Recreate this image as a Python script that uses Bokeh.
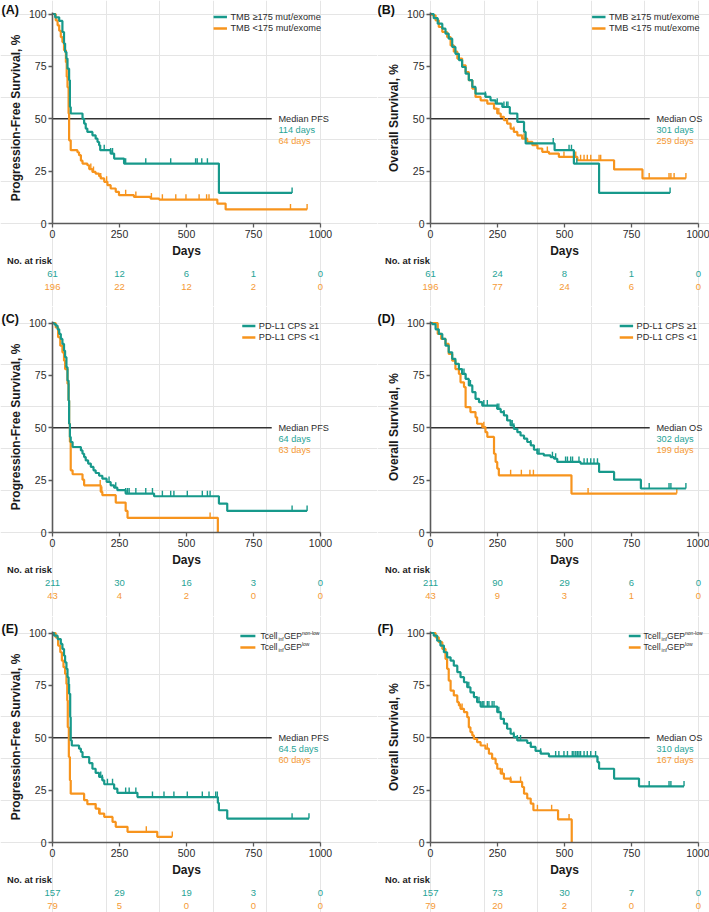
import numpy as np
from bokeh.plotting import figure
from bokeh.layouts import gridplot
from bokeh.models import (Range1d, FixedTicker, Label, LabelSet, ColumnDataSource,
                          LinearAxis)
from bokeh.embed import file_html
from bokeh.resources import INLINE
from bokeh.core.properties import value

# ---------------- data ----------------
X_TICKS = [0, 250, 500, 750, 1000]
Y_TICKS = [0, 25, 50, 75, 100]
RISK_TIMES = [0, 250, 500, 750, 1000]

# (A) PFS by TMB
a_hi_t = [10, 25, 37, 43, 47, 52, 56, 62, 65, 68, 112, 118, 124, 130, 149, 161, 168, 174, 178, 217, 230, 267, 621]
a_hi_s = [98.4, 96.7, 91.4, 85.9, 81.9, 78.7, 73.9, 68.4, 55.6, 52.5, 50.0, 47.7, 45.3, 43.7, 42.1, 40.5, 38.9, 37.3, 35.0, 33.4, 31.0, 28.6, 14.6]
a_hi_c = [193, 217, 224, 273, 348, 441, 534, 540, 557, 578, 894]
a_lo_t = [12, 19, 25, 31, 37, 43, 50, 53, 56, 60, 62, 68, 93, 99, 106, 112, 130, 137, 149, 161, 174, 180, 193, 205, 217, 236, 248, 304, 366, 398, 615, 646]
a_lo_s = [97.0, 94.6, 92.0, 89.0, 86.6, 82.7, 77.0, 70.0, 65.0, 52.5, 39.7, 35.0, 34.0, 32.6, 30.0, 28.6, 27.8, 26.0, 24.6, 23.8, 22.6, 21.5, 19.9, 18.3, 16.7, 15.1, 13.5, 12.7, 11.9, 11.4, 9.5, 6.7]
a_lo_c = [143, 153, 180, 202, 273, 311, 369, 410, 460, 498, 547, 575, 584, 888, 950]
a_risk_hi = [61, 12, 6, 1, 0]
a_risk_lo = [196, 22, 12, 2, 0]
a_median = ["Median PFS", "114 days", "64 days"]

# (B) OS by TMB
b_hi_t = [12, 27, 44, 56, 68, 81, 93, 106, 118, 131, 143, 156, 168, 205, 224, 243, 268, 296, 324, 349, 355, 463, 535, 629]
b_hi_s = [98.0, 95.4, 93.0, 90.6, 88.2, 84.3, 81.0, 78.0, 74.7, 71.5, 68.4, 65.2, 62.0, 60.4, 58.8, 57.2, 55.6, 52.5, 48.5, 43.7, 38.2, 35.0, 28.6, 14.6]
b_hi_c = [205, 249, 274, 284, 289, 458, 517, 526, 546, 894]
b_lo_t = [6, 19, 31, 44, 62, 75, 87, 100, 118, 131, 143, 156, 168, 187, 212, 237, 249, 262, 274, 286, 299, 311, 324, 342, 361, 380, 399, 417, 442, 479, 548, 685, 791]
b_lo_s = [99.4, 97.0, 93.8, 91.4, 89.0, 85.0, 82.0, 78.7, 75.5, 72.3, 68.4, 64.4, 60.4, 58.8, 57.2, 54.8, 52.5, 50.9, 49.3, 47.7, 45.3, 43.7, 42.1, 40.5, 39.0, 37.4, 35.8, 34.2, 33.4, 31.8, 30.2, 25.8, 21.5]
b_lo_c = [237, 255, 286, 311, 349, 436, 498, 542, 560, 573, 585, 598, 629, 635, 816, 890, 897, 909, 953]
b_risk_hi = [61, 24, 8, 1, 0]
b_risk_lo = [196, 77, 24, 6, 0]
b_median = ["Median OS", "301 days", "259 days"]

# (C) PFS by PD-L1
c_hi_t = [6, 12, 19, 25, 31, 37, 43, 47, 52, 56, 60, 62, 65, 68, 75, 106, 112, 118, 124, 133, 143, 153, 161, 174, 186, 202, 217, 230, 242, 273, 379, 621, 652]
c_hi_s = [99.5, 98.7, 97.0, 94.8, 92.4, 90.0, 86.8, 83.7, 78.9, 72.5, 63.0, 51.9, 45.6, 43.2, 40.8, 39.2, 37.6, 36.0, 34.4, 32.9, 31.3, 29.7, 28.4, 27.1, 25.7, 24.1, 22.5, 21.4, 20.2, 18.6, 17.3, 13.8, 10.3]
c_hi_c = [211, 236, 273, 280, 286, 311, 348, 373, 410, 441, 453, 503, 559, 578, 588, 894, 950]
c_lo_t = [12, 21, 29, 37, 43, 47, 56, 60, 62, 65, 68, 75, 112, 118, 180, 186, 236, 273, 280, 617]
c_lo_s = [97.9, 93.2, 89.2, 86.0, 82.0, 78.0, 71.0, 63.0, 51.9, 43.2, 29.7, 27.8, 25.2, 22.5, 19.4, 17.8, 14.3, 10.3, 7.0, 0.0]
c_lo_c = [178, 184, 588]
c_risk_hi = [211, 30, 16, 3, 0]
c_risk_lo = [43, 4, 2, 0, 0]
c_median = ["Median PFS", "64 days", "63 days"]

# (D) OS by PD-L1
d_hi_t = [6, 19, 31, 44, 56, 68, 81, 93, 106, 118, 131, 143, 156, 168, 181, 193, 249, 262, 274, 286, 299, 311, 324, 336, 349, 361, 374, 386, 399, 423, 448, 461, 473, 560, 629, 685, 785]
d_hi_s = [99.5, 97.0, 94.8, 92.4, 89.2, 86.0, 82.9, 80.5, 78.0, 75.7, 73.3, 70.2, 67.0, 63.8, 62.2, 60.6, 59.0, 57.5, 55.9, 53.5, 51.1, 49.5, 47.9, 46.3, 44.8, 43.2, 41.6, 39.5, 37.6, 36.8, 36.0, 35.2, 33.7, 32.9, 28.9, 25.2, 21.0]
d_hi_c = [125, 131, 149, 199, 212, 249, 255, 274, 286, 299, 305, 311, 374, 399, 405, 455, 467, 504, 511, 523, 530, 554, 573, 585, 598, 610, 623, 816, 890, 897, 953]
d_lo_t = [27, 40, 56, 68, 81, 93, 106, 112, 125, 131, 149, 168, 174, 193, 205, 212, 237, 243, 249, 255, 526]
d_lo_s = [94.8, 92.4, 90.0, 85.2, 82.0, 78.0, 75.7, 71.7, 69.4, 59.8, 57.5, 55.0, 51.9, 50.3, 47.9, 45.6, 37.6, 33.7, 30.5, 27.3, 18.6]
d_lo_c = [174, 199, 299, 339, 371, 384, 588, 919]
d_risk_hi = [211, 90, 29, 6, 0]
d_risk_lo = [43, 9, 3, 1, 0]
d_median = ["Median OS", "302 days", "199 days"]

# (E) PFS by Tcell-inf GEP
e_hi_t = [6, 19, 31, 37, 43, 47, 52, 56, 60, 62, 66, 68, 72, 99, 106, 112, 137, 149, 161, 174, 186, 193, 230, 242, 317, 617, 621, 652]
e_hi_s = [98.7, 97.1, 94.8, 92.4, 89.2, 86.0, 82.9, 78.9, 75.7, 71.0, 59.8, 48.7, 46.3, 44.8, 43.2, 40.8, 37.9, 35.2, 33.2, 31.3, 29.7, 27.8, 25.7, 23.7, 21.7, 18.9, 15.4, 11.4]
e_hi_c = [180, 186, 205, 224, 273, 286, 311, 373, 416, 453, 503, 559, 584, 609, 615, 894, 957]
e_lo_t = [12, 21, 29, 35, 41, 47, 52, 55, 57, 61, 65, 68, 118, 130, 161, 174, 193, 224, 236, 280, 391]
e_lo_s = [97.9, 94.0, 90.8, 86.8, 83.7, 80.5, 75.7, 67.8, 55.0, 40.8, 29.7, 23.3, 20.2, 18.3, 16.2, 13.8, 12.2, 9.8, 7.5, 5.1, 2.7]
e_lo_c = [161, 177, 350, 447]
e_risk_hi = [157, 29, 19, 3, 0]
e_risk_lo = [79, 5, 0, 0, 0]
e_median = ["Median PFS", "64.5 days", "60 days"]

# (F) OS by Tcell-inf GEP
f_hi_t = [12, 25, 37, 50, 62, 75, 87, 100, 112, 125, 137, 149, 162, 174, 187, 249, 262, 274, 286, 299, 311, 324, 361, 374, 392, 411, 442, 623, 629, 685, 778]
f_hi_s = [98.7, 96.3, 94.0, 90.8, 88.4, 86.8, 84.4, 81.3, 78.9, 76.5, 74.1, 71.7, 69.4, 67.0, 64.9, 62.2, 59.0, 56.7, 54.3, 51.9, 50.3, 48.7, 47.5, 45.6, 43.7, 42.4, 41.1, 38.4, 35.2, 30.5, 26.8]
f_hi_c = [143, 181, 193, 199, 212, 218, 230, 237, 255, 274, 286, 311, 324, 336, 374, 411, 467, 479, 498, 511, 529, 535, 542, 548, 554, 560, 573, 585, 598, 616, 623, 816, 890, 897, 946]
f_lo_t = [19, 31, 44, 56, 62, 68, 75, 87, 100, 106, 112, 125, 137, 143, 149, 156, 162, 174, 187, 205, 218, 230, 243, 249, 262, 274, 299, 342, 349, 361, 374, 384, 476, 527]
f_lo_s = [97.9, 95.6, 92.4, 87.6, 82.9, 77.3, 72.5, 70.2, 67.0, 65.4, 63.8, 62.2, 59.8, 55.0, 52.7, 51.1, 49.5, 47.9, 46.3, 44.8, 42.4, 40.0, 37.6, 35.2, 32.9, 30.5, 28.9, 26.5, 23.3, 21.0, 18.6, 15.4, 11.0, 0.0]
f_lo_c = [112, 118, 212, 268, 299, 336, 399, 452, 517]
f_risk_hi = [157, 73, 30, 7, 0]
f_risk_lo = [79, 20, 2, 0, 0]
f_median = ["Median OS", "310 days", "167 days"]

PFS_LABEL = "Progression-Free Survival, %"
OS_LABEL = "Overall Survival, %"
TMB_LEGEND = ["TMB \u2265175 mut/exome", "TMB <175 mut/exome"]
PDL1_LEGEND = ["PD-L1 CPS \u22651", "PD-L1 CPS <1"]
GEP_LEGEND = [("Tcell", "inf", "GEP", "non-low"), ("Tcell", "inf", "GEP", "low")]
MEDIAN_LEVEL = 50

# ---------------- style / layout ----------------
FONT = "Liberation Sans"
TEAL = "#17998b"
ORANGE = "#f7941d"
TEAL_TXT = "#27a396"
ORANGE_TXT = "#f59a35"
AXIS_C = "#5a5a5a"
TEXT_C = "#2b2b2b"

PX_PER_DAY = 0.268
PX_PER_UNIT = 2.095
COL_EDGES = [0, 377, 709]          # page x of figure edges
AXIS_X = [52, 430]                 # page x of day 0
ROW_EDGES = [0, 306, 616, 912]     # page y of figure edges
ZERO_Y = [223, 532, 842]           # page y of 0 %
TAG_PX = [1, 377]
RISK_PX = [37, 50.5, 63.5]         # px below the 0 % line
MEDIAN_LINE_END = 818
MEDIAN_TEXT_X = 843
NO_AT_RISK_X = -170


def step_at(times, surv, t):
    idx = np.searchsorted(np.array(times), t, side="right") - 1
    return 100.0 if idx < 0 else surv[idx]


def px_x(px):
    return px / PX_PER_DAY


def px_y(px):
    return px / PX_PER_UNIT


def add_curve(p, times, surv, cens, color):
    end = max(max(times), max(cens))
    xs = [0] + list(times) + [end]
    ys = [100] + list(surv) + [surv[-1]]
    p.step(xs, ys, mode="after", line_color=color, line_width=2.2)
    cy = [step_at(times, surv, c) for c in cens]
    p.segment(x0=cens, x1=cens, y0=cy, y1=[v + 2.6 for v in cy],
              line_color=color, line_width=1.4)


def lbl(p, x, y, text, size, color=TEXT_C, bold=False, align="left", base="middle"):
    p.add_layout(Label(x=x, y=y, text=text, text_font=FONT, text_font_size=size,
                       text_color=color, text_font_style="bold" if bold else "normal",
                       text_align=align, text_baseline=base))


def style_axis(ax):
    ax.axis_line_color = AXIS_C
    ax.axis_line_width = 1.6
    ax.major_tick_line_color = AXIS_C
    ax.major_tick_line_width = 1.3
    ax.major_tick_out = 4
    ax.major_tick_in = 0
    ax.minor_tick_line_color = None
    ax.major_label_text_font = FONT
    ax.major_label_text_font_size = "10.5px"
    ax.major_label_text_color = TEXT_C
    ax.major_label_standoff = 2
    ax.axis_label_text_font = FONT
    ax.axis_label_text_font_style = "bold"
    ax.axis_label_text_font_size = "12px"
    ax.axis_label_text_color = "#1a1a1a"
    ax.axis_label_standoff = 3


def make_panel(tag, col, row, ylab, series, risk, median, legend, legend_x):
    left, right = COL_EDGES[col], COL_EDGES[col + 1]
    top, bottom = ROW_EDGES[row], ROW_EDGES[row + 1]
    ax0 = AXIS_X[col]
    y0 = ZERO_Y[row]
    x_rng = Range1d(px_x(left - ax0), px_x(right - ax0))
    y_rng = Range1d(-px_y(bottom - y0), px_y(y0 - top))
    p = figure(width=right - left, height=bottom - top, min_border=0,
               x_range=x_rng, y_range=y_rng, x_axis_location=None, y_axis_location=None,
               output_backend="svg", toolbar_location=None)
    p.outline_line_color = None
    p.background_fill_color = "white"
    p.border_fill_color = "white"

    xaxis = LinearAxis(fixed_location=0, ticker=FixedTicker(ticks=X_TICKS),
                       bounds=(X_TICKS[0], X_TICKS[-1]), axis_label="Days")
    yaxis = LinearAxis(fixed_location=0, ticker=FixedTicker(ticks=Y_TICKS),
                       bounds=(Y_TICKS[0], Y_TICKS[-1] + 0.6), axis_label=ylab)
    style_axis(xaxis)
    style_axis(yaxis)
    p.add_layout(xaxis, "below")
    p.add_layout(yaxis, "left")

    # median reference line + text
    p.segment(x0=[0], x1=[MEDIAN_LINE_END], y0=[MEDIAN_LEVEL], y1=[MEDIAN_LEVEL],
              line_color="#333333", line_width=1.3)
    for i, (txt, colr) in enumerate(zip(median, [TEXT_C, TEAL_TXT, ORANGE_TXT])):
        lbl(p, MEDIAN_TEXT_X, MEDIAN_LEVEL - i * px_y(11.3), txt, "9.2px", colr)

    # curves (orange first, teal above)
    (hi_t, hi_s, hi_c), (lo_t, lo_s, lo_c) = series
    add_curve(p, lo_t, lo_s, lo_c, ORANGE)
    add_curve(p, hi_t, hi_s, hi_c, TEAL)

    # legend (drawn by hand)
    lx0, lx1, tx = legend_x
    for ry, colr, item in zip([98.6, 93.1], [TEAL, ORANGE], legend):
        p.segment(x0=[lx0], x1=[lx1], y0=[ry], y1=[ry], line_color=colr, line_width=2.6)
        if isinstance(item, str):
            lbl(p, tx, ry, item, "9.2px")
        else:
            base, sub, mid, sup = item
            lbl(p, tx, ry, base, "8.5px")
            lbl(p, tx + px_x(18), ry - px_y(3), sub, "5px")
            lbl(p, tx + px_x(23.5), ry, mid, "8.5px")
            lbl(p, tx + px_x(41.5), ry + px_y(3), sup, "5px")

    # panel tag
    lbl(p, px_x(TAG_PX[col] - ax0), 100 + px_y(11), tag, "12.5px", "#111111",
        bold=True, base="top")

    # number at risk table
    lbl(p, NO_AT_RISK_X, -px_y(RISK_PX[0]), "No. at risk", "9.3px", "#222222", bold=True)
    for k, (vals, colr) in enumerate(zip(risk, [TEAL_TXT, ORANGE_TXT])):
        src = ColumnDataSource(dict(x=RISK_TIMES, y=[-px_y(RISK_PX[k + 1])] * len(RISK_TIMES),
                                    text=[str(v) for v in vals]))
        p.add_layout(LabelSet(x="x", y="y", text="text", source=src,
                              text_align="center", text_baseline="middle",
                              text_font=value(FONT), text_font_size=value("9.5px"),
                              text_color=colr))
    return p


pa = make_panel("(A)", 0, 0, PFS_LABEL, [(a_hi_t, a_hi_s, a_hi_c), (a_lo_t, a_lo_s, a_lo_c)],
                [a_risk_hi, a_risk_lo], a_median, TMB_LEGEND, (601, 651, 664))
pb = make_panel("(B)", 1, 0, OS_LABEL, [(b_hi_t, b_hi_s, b_hi_c), (b_lo_t, b_lo_s, b_lo_c)],
                [b_risk_hi, b_risk_lo], b_median, TMB_LEGEND, (603, 653, 666))
pc = make_panel("(C)", 0, 1, PFS_LABEL, [(c_hi_t, c_hi_s, c_hi_c), (c_lo_t, c_lo_s, c_lo_c)],
                [c_risk_hi, c_risk_lo], c_median, PDL1_LEGEND, (708, 757, 770))
pd_ = make_panel("(D)", 1, 1, OS_LABEL, [(d_hi_t, d_hi_s, d_hi_c), (d_lo_t, d_lo_s, d_lo_c)],
                 [d_risk_hi, d_risk_lo], d_median, PDL1_LEGEND, (706, 756, 769))
pe = make_panel("(E)", 0, 2, PFS_LABEL, [(e_hi_t, e_hi_s, e_hi_c), (e_lo_t, e_lo_s, e_lo_c)],
                [e_risk_hi, e_risk_lo], e_median, GEP_LEGEND, (701, 757, 776))
pf = make_panel("(F)", 1, 2, OS_LABEL, [(f_hi_t, f_hi_s, f_hi_c), (f_lo_t, f_lo_s, f_lo_c)],
                [f_risk_hi, f_risk_lo], f_median, GEP_LEGEND, (740, 784, 795))

grid = gridplot([[pa, pb], [pc, pd_], [pe, pf]], toolbar_location=None)

open("out.html", "w").write(file_html(grid, INLINE))
